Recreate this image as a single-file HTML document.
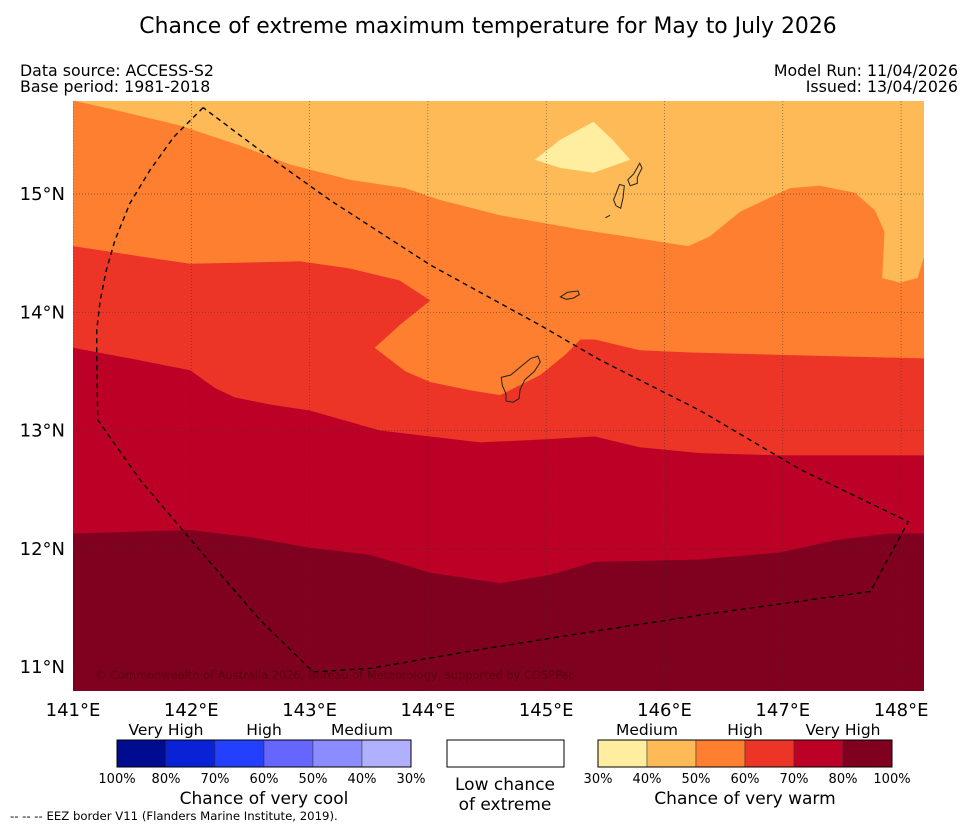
<!DOCTYPE html>
<html><head><meta charset="utf-8"><style>
body{margin:0;background:#fff;font-family:"Liberation Sans","DejaVu Sans",sans-serif;}
svg text{font-family:"DejaVu Sans","Liberation Sans",sans-serif;}
</style></head><body>
<svg id="c" width="977" height="827" xmlns="http://www.w3.org/2000/svg">
<text x="488" y="33" font-size="21.9" text-anchor="middle">Chance of extreme maximum temperature for May to July 2026</text>
<text x="20" y="76" font-size="15.8">Data source: ACCESS-S2</text>
<text x="20" y="92" font-size="15.8">Base period: 1981-2018</text>
<text x="958" y="76" font-size="15.8" text-anchor="end">Model Run: 11/04/2026</text>
<text x="958" y="92" font-size="15.8" text-anchor="end">Issued: 13/04/2026</text>
<defs><clipPath id="pc"><rect x="73" y="101" width="851" height="590"/></clipPath></defs>
<g id="plot" clip-path="url(#pc)"></g>
<g id="axes"></g>
<g id="legend"></g>
<text x="10" y="820" font-size="11.7">--  --  -- EEZ border V11 (Flanders Marine Institute, 2019).</text>
</svg>
<script>
const lonTicks=[141,142,143,144,145,146,147,148];
const latTicks=[11,12,13,14,15];
const bandColors=["#fdba57","#fd7f2f","#ec3526","#bd0026","#800020"];
const band50=[[141,15.79],[141.355,15.71],[141.90,15.58],[142.41,15.41],[142.83,15.25],[143.34,15.12],[143.81,15.05],[144.10,14.95],[144.61,14.82],[145.29,14.70],[146.20,14.56],[146.38,14.64],[146.64,14.85],[147.06,15.05],[147.31,15.07],[147.61,15.01],[147.78,14.86],[147.86,14.68],[147.84,14.29],[147.99,14.25],[148.14,14.29],[148.19,14.46]];
const band60=[[141,14.56],[141.65,14.46],[141.99,14.41],[142.92,14.43],[143.34,14.37],[143.76,14.27],[144.02,14.10],[143.76,13.89],[143.55,13.70],[143.81,13.50],[144.02,13.41],[144.36,13.34],[144.61,13.30],[144.95,13.47],[145.16,13.64],[145.29,13.77],[145.41,13.77],[145.79,13.68],[146.22,13.66],[146.98,13.64],[148.19,13.61]];
const band70=[[141,13.70],[141.48,13.61],[141.99,13.51],[142.20,13.36],[142.37,13.28],[142.67,13.22],[143.00,13.17],[143.60,13.00],[144.02,12.95],[144.44,12.90],[144.86,12.92],[145.41,12.95],[145.79,12.86],[146.30,12.81],[146.98,12.79],[148.19,12.79]];
const band80=[[141,12.13],[141.99,12.16],[142.50,12.10],[143.00,12.01],[143.51,11.95],[144.02,11.80],[144.61,11.71],[145.03,11.78],[145.41,11.89],[146.30,11.91],[146.98,11.97],[147.48,12.08],[147.91,12.13],[148.19,12.13]];
const yellowBlob=[[144.905,15.29],[145.12,15.46],[145.40,15.61],[145.56,15.46],[145.71,15.29],[145.40,15.18],[145.12,15.22]];
const eez=[[142.10,15.73],[141.85,15.48],[141.65,15.20],[141.48,14.92],[141.355,14.61],[141.28,14.35],[141.23,14.10],[141.20,13.85],[141.20,13.60],[141.21,13.09],[141.57,12.58],[142.07,11.99],[142.58,11.40],[143.03,10.96],[143.51,10.99],[144.44,11.15],[145.45,11.31],[146.30,11.44],[147.74,11.64],[148.06,12.23],[147.15,12.67],[146.30,13.17],[145.45,13.60],[144.95,13.89],[144.02,14.40],[143.17,14.95],[142.58,15.37],[142.10,15.73]];
const guam=[[144.62,13.45],[144.70,13.47],[144.76,13.52],[144.82,13.57],[144.87,13.61],[144.93,13.63],[144.95,13.58],[144.90,13.50],[144.82,13.43],[144.78,13.35],[144.77,13.27],[144.72,13.24],[144.66,13.25],[144.66,13.31],[144.63,13.38],[144.62,13.45]];
const rota=[[145.12,14.13],[145.18,14.17],[145.27,14.18],[145.28,14.15],[145.23,14.12],[145.17,14.11],[145.12,14.13]];
const tinian=[[145.57,14.95],[145.62,15.08],[145.66,15.07],[145.65,14.97],[145.63,14.88],[145.59,14.90],[145.57,14.95]];
const saipan=[[145.69,15.12],[145.74,15.17],[145.79,15.26],[145.81,15.22],[145.77,15.14],[145.77,15.09],[145.71,15.07],[145.69,15.12]];
const fdm=[[145.50,14.80],[145.54,14.82]];

const X=lon=>73+(lon-141)*118.3;
const Y=lat=>194-(lat-15)*118.3;
const NS="http://www.w3.org/2000/svg";
const plot=document.getElementById('plot'),axes=document.getElementById('axes'),leg=document.getElementById('legend');
function mk(t,a,p){const e=document.createElementNS(NS,t);for(const k in a)e.setAttribute(k,a[k]);p.appendChild(e);return e;}
const pts=arr=>arr.map(p=>X(p[0]).toFixed(1)+','+Y(p[1]).toFixed(1)).join(' ');
const bg=mk('rect',{x:73,y:101,width:851,height:590,fill:bandColors[0]},plot);


const bandNames=['band-50-60','band-60-70','band-70-80','band-80-100'];
[band50,band60,band70,band80].forEach((b,i)=>{
  const poly=b.concat([[148.3,b[b.length-1][1]],[148.3,10.5],[140.9,10.5],[140.9,b[0][1]]]);
  const e=mk('polygon',{points:pts(poly),fill:bandColors[i+1]},plot);
  
  
});
const yb=mk('polygon',{points:pts(yellowBlob),fill:'#ffeda0'},plot);


lonTicks.forEach(l=>{const g=mk('line',{x1:X(l),x2:X(l),y1:101,y2:691,stroke:'#333','stroke-width':0.7,'stroke-dasharray':'1,2',opacity:0.7},plot);

});
latTicks.forEach(l=>{const g=mk('line',{x1:73,x2:924,y1:Y(l),y2:Y(l),stroke:'#333','stroke-width':0.7,'stroke-dasharray':'1,2',opacity:0.7},plot);

});
[[guam,'guam'],[rota,'rota'],[tinian,'tinian'],[saipan,'saipan'],[fdm,'islet']].forEach(([a,n])=>{
  const e=mk('polygon',{points:pts(a),fill:'none',stroke:'#222','stroke-width':1},plot);
  
  
});
const ez=mk('polyline',{points:pts(eez),fill:'none',stroke:'#000','stroke-width':1.4,'stroke-dasharray':'5,4'},plot);


const cp=mk('text',{x:95,y:679,'font-size':11.4,fill:'#5a0010'},plot);cp.textContent='© Commonwealth of Australia 2026, Bureau of Meteorology, supported by COSPPac';


lonTicks.forEach(l=>{const t=mk('text',{x:X(l),y:716,'font-size':18,'text-anchor':'middle'},axes);t.textContent=l+'°E';

});
latTicks.forEach(l=>{const t=mk('text',{x:65,y:Y(l)+6,'font-size':18,'text-anchor':'end'},axes);t.textContent=l+'°N';

});
const coolColors=["#000c8f","#0a22d6","#2440ff","#6666ff","#8a8cff","#b0b0ff"];
const coolLabels=["100%","80%","70%","60%","50%","40%","30%"];
const warmColors=["#ffeda0","#fdba57","#fd7f2f","#ec3526","#bd0026","#800020"];
const warmLabels=["30%","40%","50%","60%","70%","80%","100%"];
function bar(x0,cols,labs,name){
  cols.forEach((c,i)=>{const r=mk('rect',{x:x0+i*49,y:740,width:49,height:27,fill:c,stroke:'#333','stroke-width':0.5},leg);
  
  });
  mk('rect',{x:x0,y:740,width:294,height:27,fill:'none',stroke:'#000','stroke-width':1},leg);
  labs.forEach((s,i)=>{const t=mk('text',{x:x0+i*49,y:783,'font-size':13,'text-anchor':'middle'},leg);t.textContent=s;
  
  });
}
bar(117,coolColors,coolLabels,'cool');
bar(598,warmColors,warmLabels,'warm');
const w=mk('rect',{x:447,y:740,width:117,height:27,fill:'#fff',stroke:'#000','stroke-width':1},leg);


[[166,'Very High'],[264,'High'],[362,'Medium'],[647,'Medium'],[745,'High'],[843,'Very High']].forEach(([x,s])=>{const t=mk('text',{x:x,y:735,'font-size':15.5,'text-anchor':'middle'},leg);t.textContent=s;

});
[[264,804,'Chance of very cool'],[505,790,'Low chance'],[505,810,'of extreme'],[745,804,'Chance of very warm']].forEach(([x,y,s])=>{const t=mk('text',{x:x,y:y,'font-size':17,'text-anchor':'middle'},leg);t.textContent=s;

});
</script>
</body></html>
